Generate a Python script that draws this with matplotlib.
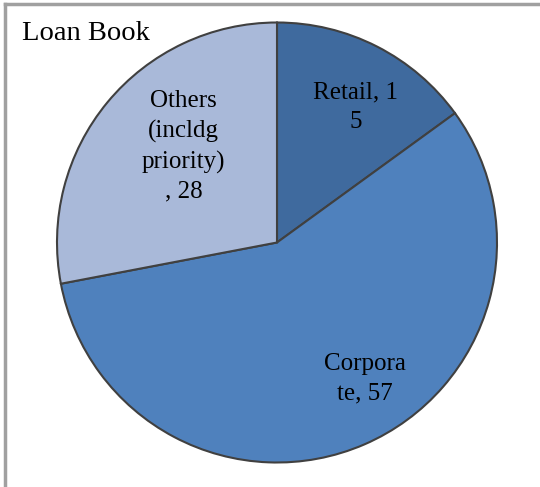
import matplotlib.pyplot as plt
from matplotlib.lines import Line2D

labels = ['Retail, 1\n5', 'Corpora\nte, 57', 'Others\n(incldg\npriority)\n, 28']
values = [15, 57, 28]
colors = ['#3F6A9E', '#4F81BD', '#A9B9D9']
label_pos = [(0.357, 0.614), (0.40, -0.618), (-0.425, 0.436)]

plt.rcParams['font.family'] = ['Liberation Serif', 'DejaVu Serif']

fig = plt.figure(figsize=(5.4, 4.87), dpi=100)
W, H = 540, 487
ax = fig.add_axes([(277 - 220) / W, (H - 463) / H, 440 / W, 441 / H])
ax.pie(values, colors=colors, startangle=90, counterclock=False,
       wedgeprops=dict(edgecolor='#404040', linewidth=1.5))
ax.set_aspect('equal')
ax.set_xlim(-1.0, 1.0)
ax.set_ylim(-1.0, 1.0)

for lab, (x, y) in zip(labels, label_pos):
    ax.text(x, y, lab, ha='center', va='center', fontsize=18, linespacing=1.42)

fig.text(22 / W, 1 - 33 / H, 'Loan Book', ha='left', va='center', fontsize=20.5)

# partial chart frame (top and left edges)
fig.add_artist(Line2D([5 / W, 1], [1 - 4 / H, 1 - 4 / H], color='#A0A0A0', lw=2.5,
                      transform=fig.transFigure))
fig.add_artist(Line2D([5 / W, 5 / W], [0, 1 - 4 / H], color='#A0A0A0', lw=2.5,
                      transform=fig.transFigure))

fig.savefig('out.png', dpi=100)
